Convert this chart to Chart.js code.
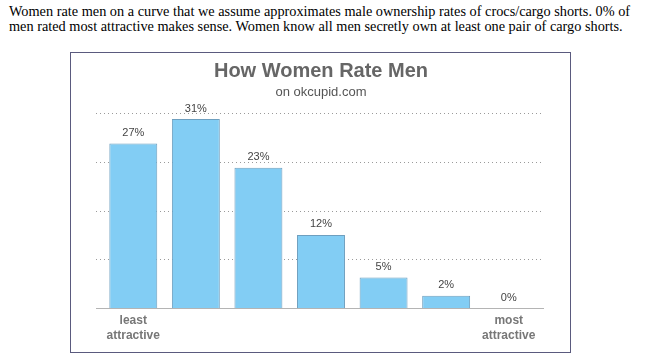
<!DOCTYPE html>
<html>
<head>
<meta charset="utf-8">
<script src="https://cdn.jsdelivr.net/npm/chart.js@4/dist/chart.umd.min.js"></script>
<style>
  html, body { margin: 0; padding: 0; background: #fff; width: 651px; height: 364px; overflow: hidden; }
  #caption { position: absolute; left: 9px; top: 4px; font-family: 'Liberation Serif', 'DejaVu Serif', serif; font-size: 14.3px; line-height: 15px; color: #000; white-space: nowrap; }
  #frame { position: absolute; left: 70px; top: 52px; width: 499px; height: 299px; border: 1px solid #5a5a7e; background: #fff; }
  #chart { display: block; }
</style>
</head>
<body>
<div id="caption">Women rate men on a curve that we assume approximates male ownership rates of crocs/cargo shorts. 0% of<br>men rated most attractive makes sense. Women know all men secretly own at least one pair of cargo shorts.</div>
<div id="frame"><canvas id="chart" width="499" height="299"></canvas></div>
<script>
const categories = [['least', 'attractive'], '', '', '', '', '', ['most', 'attractive']];
const percentages = [27, 31, 23, 12, 5, 2, 0];
const gridValues = [8, 16, 24, 32];
const titleText = 'How Women Rate Men';
const subtitleText = 'on okcupid.com';

const decorPlugin = {
  id: 'decor',
  beforeDatasetsDraw(chart) {
    const { ctx, chartArea, scales } = chart;
    const y = scales.y;
    const x0 = chartArea.left - 6, x1 = chartArea.right + 4;
    ctx.save();
    ctx.strokeStyle = '#9a9a9a';
    ctx.lineWidth = 1;
    ctx.setLineDash([1, 3]);
    gridValues.forEach(v => {
      const py = Math.round(y.getPixelForValue(v)) + 0.5;
      ctx.beginPath(); ctx.moveTo(x0, py); ctx.lineTo(x1, py); ctx.stroke();
    });
    ctx.setLineDash([]);
    ctx.strokeStyle = '#b4b4b4';
    const by = Math.round(y.getPixelForValue(0)) + 0.5;
    ctx.beginPath(); ctx.moveTo(x0, by); ctx.lineTo(x1, by); ctx.stroke();
    ctx.restore();
  },
  afterDatasetsDraw(chart) {
    const { ctx } = chart;
    const meta = chart.getDatasetMeta(0);
    ctx.save();
    ctx.font = '11px "Liberation Sans", Arial, sans-serif';
    ctx.fillStyle = '#444';
    ctx.textAlign = 'center';
    ctx.textBaseline = 'bottom';
    meta.data.forEach((bar, i) => {
      ctx.fillText(percentages[i] + '%', bar.x, bar.y - 5);
    });
    ctx.restore();
  }
};

new Chart(document.getElementById('chart'), {
  type: 'bar',
  data: {
    labels: categories,
    datasets: [{
      data: percentages,
      backgroundColor: '#82cdf4',
      borderColor: '#6e9fbf',
      borderWidth: 1,
      borderSkipped: 'bottom',
      barPercentage: 0.766,
      categoryPercentage: 1.0
    }]
  },
  options: {
    responsive: false,
    animation: false,
    events: [],
    layout: { padding: { left: 31, right: 30, top: 0, bottom: 10 } },
    plugins: {
      legend: { display: false },
      tooltip: { enabled: false },
      title: {
        display: true,
        text: titleText,
        color: '#666',
        font: { family: '"Liberation Sans", Arial, sans-serif', size: 20, weight: 'bold', lineHeight: 1.2 },
        padding: { top: 6, bottom: 2 }
      },
      subtitle: {
        display: true,
        text: subtitleText,
        color: '#555',
        font: { family: '"Liberation Sans", Arial, sans-serif', size: 13, lineHeight: 1.2 },
        padding: { top: 0, bottom: 12.4 }
      }
    },
    scales: {
      x: {
        grid: { display: false, drawTicks: false },
        border: { display: false },
        ticks: {
          autoSkip: false,
          maxRotation: 0,
          color: '#777',
          padding: 5,
          font: { family: '"Liberation Sans", Arial, sans-serif', size: 12, weight: 'bold', lineHeight: 1.25 }
        },
        afterFit(axis) { axis.height = 34; }
      },
      y: {
        display: false,
        min: 0,
        max: 32
      }
    }
  },
  plugins: [decorPlugin]
});
</script>
</body>
</html>
